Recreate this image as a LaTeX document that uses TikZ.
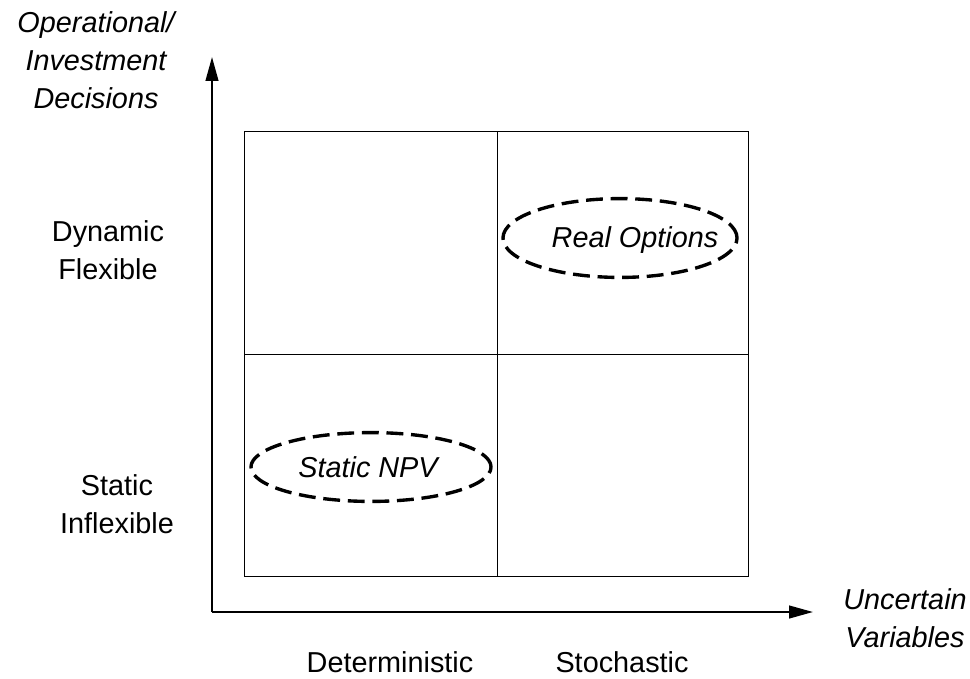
\documentclass[tikz,border=0pt]{standalone}
\usepackage{xcolor}
\usepackage{fontspec}
\setmainfont{Liberation Sans}
\usepackage{tikz}
\usetikzlibrary{arrows.meta,shapes.geometric}

\tikzset{
	axis/.style={line width=1.5pt,-{Triangle[length=17pt,width=9pt]}},
	oval/.style={ellipse,draw,line width=2.4pt,dash pattern=on 12pt off 5.5pt,inner sep=0pt},
	lbl/.style={align=center,font=\fontsize{20.5}{27}\selectfont},
}

\begin{document}
\begin{tikzpicture}[x=0.025cm,y=-0.025cm]
	
	    \useasboundingbox (0,0) rectangle (970,678);
	
	    \coordinate (o) at (212,612);
	    \coordinate (ytip) at (212,57);
	    \coordinate (xtip) at (813,612);
	    \draw[axis] (o) -- (ytip);
	    \draw[axis] (o) -- (xtip);
	
	    \draw[line width=0.7pt] (244,131) rectangle (748,576);
	    \draw[line width=0.7pt] (497,131) -- (497,576);
	    \draw[line width=0.7pt] (244,354) -- (748,354);
	
	    \node[oval,minimum width=5.85cm,minimum height=1.97cm] (ro) at (620,238) {};
	    \node[lbl,font=\fontsize{20.5}{27}\selectfont\itshape] (rotext) at (635,240) {Real Options};
	    \node[oval,minimum width=6cm,minimum height=1.72cm] (npv) at (371,467) {};
	    \node[lbl,font=\fontsize{20.5}{27}\selectfont\itshape] (npvtext) at (368,467) {Static NPV};
	
	    \node[lbl,font=\fontsize{20.5}{27}\selectfont\itshape] (ylab) at (96,60) {Operational/\\Investment\\Decisions};
	    \node[lbl,font=\fontsize{20.5}{27}\selectfont\itshape] (xlab) at (905,618) {Uncertain\\Variables};
	    \node[lbl] (dyn) at (108,250) {Dynamic\\Flexible};
	    \node[lbl] (sta) at (117,504) {Static\\Inflexible};
	    \node[lbl] (det) at (390,662) {Deterministic};
	    \node[lbl] (sto) at (622,662) {Stochastic};
	
	\end{tikzpicture}
\end{document}
